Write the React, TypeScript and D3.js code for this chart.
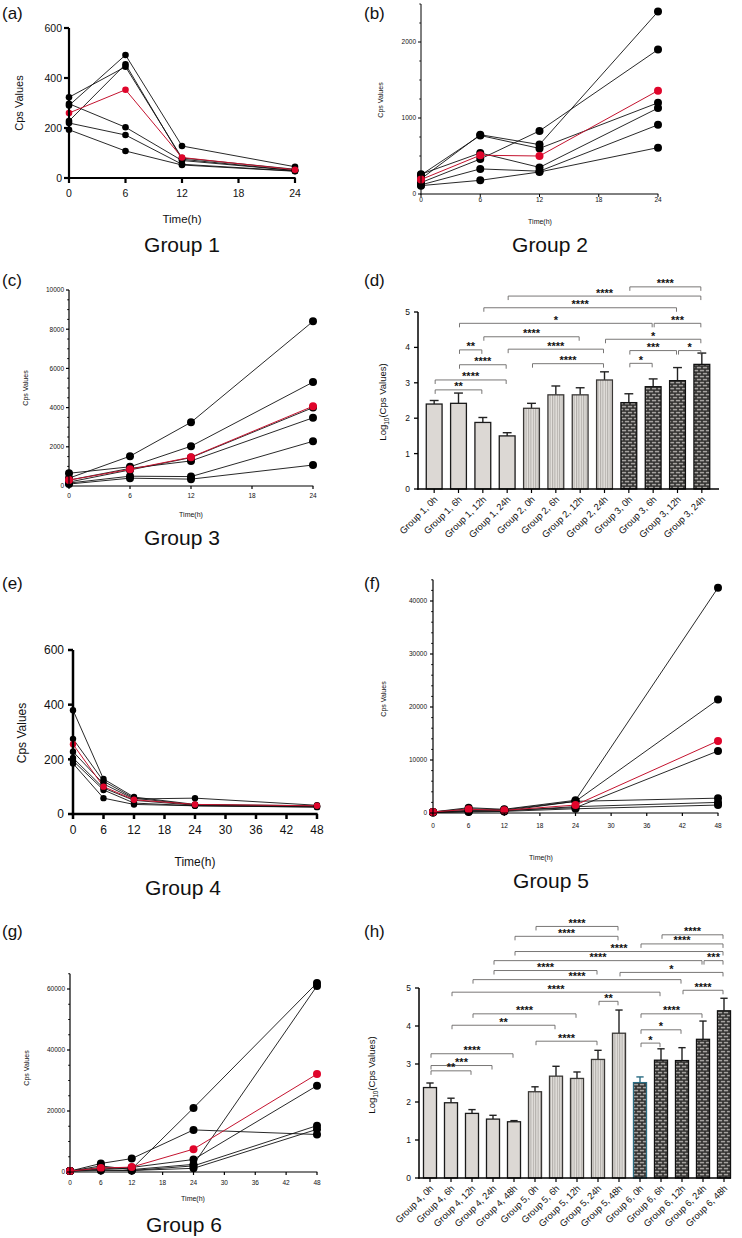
import React from "react";
import * as d3 from "d3";

// ---------------- DATA ----------------
const hours24 = [0, 6, 12, 24];
const hours48 = [0, 6, 12, 24, 48];

const group1Samples = [
  [323, 445, 80, 35],
  [297, 203, 70, 30],
  [290, 492, 128, 45],
  [228, 455, 75, 30],
  [220, 172, 55, 28],
  [193, 108, 52, 27],
];
const group1Mean = [260, 353, 82, 33];

const group2Samples = [
  [200, 780, 650, 2400],
  [250, 770, 600, 1200],
  [150, 460, 830, 1900],
  [260, 540, 350, 1130],
  [120, 330, 300, 910],
  [110, 180, 290, 610],
];
const group2Mean = [190, 510, 500, 1360];

const group3Samples = [
  [400, 1520, 3250, 8400],
  [650, 980, 2030, 5300],
  [200, 820, 1450, 4000],
  [300, 900, 1280, 3480],
  [150, 500, 480, 2280],
  [100, 400, 350, 1070],
];
const group3Mean = [300, 850, 1470, 4070];

const group4Samples = [
  [380, 128, 62, 35, 30],
  [275, 120, 58, 33, 28],
  [228, 110, 55, 58, 32],
  [205, 95, 50, 32, 27],
  [195, 88, 40, 30, 26],
  [185, 58, 35, 30, 25],
];
const group4Mean = [255, 100, 52, 35, 30];

const group5Samples = [
  [200, 1000, 700, 2400, 42500],
  [200, 800, 600, 2200, 21400],
  [150, 500, 500, 1000, 11700],
  [200, 400, 400, 2200, 2800],
  [100, 300, 400, 1200, 2000],
  [100, 200, 300, 800, 1500],
];
const group5Mean = [200, 700, 500, 1500, 13600];

const group6Samples = [
  [300, 2800, 4400, 13800, 12300],
  [300, 1500, 1000, 21000, 62000],
  [300, 2000, 800, 2500, 61000],
  [300, 1000, 1500, 4100, 28300],
  [300, 800, 500, 2000, 15200],
  [300, 500, 500, 1200, 14000],
];
const group6Mean = [300, 1300, 1600, 7500, 32100];

const barLabelsD = [
  "Group 1, 0h", "Group 1, 6h", "Group 1, 12h", "Group 1, 24h",
  "Group 2, 0h", "Group 2, 6h", "Group 2, 12h", "Group 2, 24h",
  "Group 3, 0h", "Group 3, 6h", "Group 3, 12h", "Group 3, 24h",
];
const barGroupD = [1, 1, 1, 1, 2, 2, 2, 2, 3, 3, 3, 3];
const barMeanD = [2.40, 2.42, 1.88, 1.50, 2.28, 2.66, 2.66, 3.08, 2.44, 2.89, 3.06, 3.52];
const barSdD = [0.10, 0.29, 0.14, 0.09, 0.14, 0.25, 0.20, 0.23, 0.25, 0.22, 0.37, 0.32];
// [from, to, level (log units), label]
const bracketsD: [number, number, number, string][] = [
  [0, 2, 2.80, "**"],
  [0, 3, 3.08, "****"],
  [1, 3, 3.51, "****"],
  [1, 2, 3.93, "**"],
  [2, 6, 4.30, "****"],
  [3, 7, 3.95, "****"],
  [4, 7, 3.54, "****"],
  [1, 9, 4.68, "*"],
  [2, 10, 5.12, "****"],
  [3, 11, 5.45, "****"],
  [8, 11, 5.71, "****"],
  [9, 11, 4.68, "***"],
  [7, 11, 4.23, "*"],
  [8, 10, 3.91, "***"],
  [10, 11, 3.91, "*"],
  [8, 9, 3.55, "*"],
];

const barLabelsH = [
  "Group 4, 0h", "Group 4, 6h", "Group 4, 12h", "Group 4, 24h", "Group 4, 48h",
  "Group 5, 0h", "Group 5, 6h", "Group 5, 12h", "Group 5, 24h", "Group 5, 48h",
  "Group 6, 0h", "Group 6, 6h", "Group 6, 12h", "Group 6, 24h", "Group 6, 48h",
];
const barGroupH = [1, 1, 1, 1, 1, 2, 2, 2, 2, 2, 3, 3, 3, 3, 3];
const barMeanH = [2.38, 1.98, 1.70, 1.55, 1.48, 2.27, 2.68, 2.62, 3.12, 3.81, 2.51, 3.10, 3.09, 3.65, 4.40];
const barSdH = [0.12, 0.12, 0.10, 0.10, 0.03, 0.13, 0.26, 0.17, 0.24, 0.61, 0.15, 0.30, 0.34, 0.48, 0.33];
const bracketsH: [number, number, number, string][] = [
  [5, 9, 6.62, "****"],
  [4, 9, 6.36, "****"],
  [11, 14, 6.40, "****"],
  [10, 14, 6.16, "****"],
  [4, 14, 5.96, "****"],
  [3, 13, 5.72, "****"],
  [13, 14, 5.72, "***"],
  [3, 8, 5.46, "****"],
  [9, 14, 5.41, "*"],
  [2, 12, 5.22, "****"],
  [12, 14, 4.94, "****"],
  [1, 11, 4.89, "****"],
  [8, 9, 4.65, "**"],
  [2, 7, 4.32, "****"],
  [10, 13, 4.32, "****"],
  [1, 6, 4.02, "**"],
  [10, 12, 3.90, "*"],
  [5, 8, 3.60, "****"],
  [10, 11, 3.55, "*"],
  [0, 4, 3.27, "****"],
  [0, 3, 2.96, "***"],
  [0, 2, 2.82, "**"],
];

// ---------------- STYLE ----------------
const FONT = "'Liberation Sans', Arial, Helvetica, sans-serif";
const RED_DOT = "#e0052b";
const RED_LINE = "#c4132f";

type LineProps = {
  xs: number[];
  samples: number[][];
  mean: number[];
  xMax: number;
  xStep: number;
  yTop: number;
  yStep: number;
  yMinor: number;
  x0: number; x1: number;
  y0: number; yRefPx: number; yRefVal: number;
  fs: number; tick: number; axisW: number; r: number;
  yLab: [number, number, number];
  xLab: [number, number, number];
  title: [number, number, string];
  xTickBase: number;
  yTickEnd: number;
};

function LinePanel(p: LineProps) {
  const x = d3.scaleLinear().domain([0, p.xMax]).range([p.x0, p.x1]);
  const y = d3.scaleLinear().domain([0, p.yRefVal]).range([p.y0, p.yRefPx]);
  const xTicks = d3.range(0, p.xMax + 0.001, p.xStep);
  const yTicks = d3.range(0, p.yTop + 0.001, p.yStep).filter((v) => v <= p.yTop);
  const yMinorTicks = p.yMinor > 0 ? d3.range(0, p.yTop + 0.001, p.yMinor).filter((v) => v % p.yStep !== 0) : [];
  const line = d3.line<number>().x((_, i) => x(p.xs[i])).y((v) => y(v));
  return (
    <g fontFamily={FONT}>
      {p.samples.map((s, k) => (
        <path key={"l" + k} d={line(s) || ""} fill="none" stroke="#111" strokeWidth={0.9} />
      ))}
      <path d={line(p.mean) || ""} fill="none" stroke={RED_LINE} strokeWidth={1} />
      {p.samples.map((s, k) =>
        s.map((v, i) => <circle key={"c" + k + "-" + i} cx={x(p.xs[i])} cy={y(v)} r={p.r} fill="#000" />)
      )}
      {p.mean.map((v, i) => (
        <circle key={"m" + i} cx={x(p.xs[i])} cy={y(v)} r={p.r} fill={RED_DOT} />
      ))}
      {/* axes */}
      <line x1={p.x0} x2={p.x0} y1={p.y0 + p.axisW / 2} y2={y(p.yTop)} stroke="#000" strokeWidth={p.axisW} />
      <line x1={p.x0 - p.axisW / 2} x2={p.x1 + p.axisW / 4} y1={p.y0} y2={p.y0} stroke="#000" strokeWidth={p.axisW} />
      {yTicks.map((v) => (
        <g key={"yt" + v}>
          <line x1={p.x0 - p.tick} x2={p.x0} y1={y(v)} y2={y(v)} stroke="#000" strokeWidth={p.axisW} />
          <text x={p.yTickEnd} y={y(v)} dy="0.36em" textAnchor="end" fontSize={p.fs} fill="#111">{String(v)}</text>
        </g>
      ))}
      {yMinorTicks.map((v) => (
        <line key={"ym" + v} x1={p.x0 - p.tick * 0.6} x2={p.x0} y1={y(v)} y2={y(v)} stroke="#000" strokeWidth={p.axisW * 0.8} />
      ))}
      {xTicks.map((v) => (
        <g key={"xt" + v}>
          <line x1={x(v)} x2={x(v)} y1={p.y0} y2={p.y0 + p.tick} stroke="#000" strokeWidth={p.axisW} />
          <text x={x(v)} y={p.xTickBase} textAnchor="middle" fontSize={p.fs} fill="#111">{String(v)}</text>
        </g>
      ))}
      <text transform={`translate(${p.yLab[0]},${p.yLab[1]}) rotate(-90)`} textAnchor="middle" dy="0.35em" fontSize={p.yLab[2]} fill="#111">Cps Values</text>
      <text x={p.xLab[0]} y={p.xLab[1]} textAnchor="middle" fontSize={p.xLab[2]} fill="#111">Time(h)</text>
      <text x={p.title[0]} y={p.title[1]} textAnchor="middle" fontSize={21} fill="#111">{p.title[2]}</text>
    </g>
  );
}

type BarProps = {
  labels: string[];
  groups: number[];
  means: number[];
  sds: number[];
  brackets: [number, number, number, string][];
  r0: number; r1: number; padding: number;
  axisX0: number; axisX1: number;
  y0: number; y5: number;
  yLab: [number, number];
  teal?: number;
  id: string;
};

function BarPanel(p: BarProps) {
  const x = d3.scaleBand<number>().domain(d3.range(p.labels.length)).range([p.r0, p.r1]).paddingInner(p.padding).paddingOuter(p.padding / 2);
  const y = d3.scaleLinear().domain([0, 5]).range([p.y0, p.y5]);
  const bw = x.bandwidth();
  const cx = (i: number) => (x(i) as number) + bw / 2;
  const fills: Record<number, string> = { 1: "#dcd8d4", 2: `url(#stripe-${p.id})`, 3: `url(#brick-${p.id})` };
  const strokes: Record<number, string> = { 1: "#1a1a1a", 2: "#3a3836", 3: "#111" };
  return (
    <g fontFamily={FONT}>
      <defs>
        <pattern id={`stripe-${p.id}`} width={2.4} height={4} patternUnits="userSpaceOnUse">
          <rect width={2.4} height={4} fill="#e4e1dd" />
          <line x1={0.6} x2={0.6} y1={0} y2={4} stroke="#8c8884" strokeWidth={0.7} />
        </pattern>
        <pattern id={`brick-${p.id}`} width={6} height={6} patternUnits="userSpaceOnUse">
          <rect width={6} height={6} fill="#2e2d2c" />
          <rect x={0.8} y={0.8} width={4.4} height={1.6} fill="#a6a3a0" />
          <rect x={3.8} y={3.8} width={4.4} height={1.6} fill="#a6a3a0" />
          <rect x={-2.2} y={3.8} width={4.4} height={1.6} fill="#a6a3a0" />
        </pattern>
      </defs>
      {p.means.map((m, i) => {
        const g = p.groups[i];
        const isTeal = p.teal === i;
        const col = isTeal ? "#2b6d84" : strokes[g];
        const top = y(m);
        const errTop = y(m + p.sds[i]);
        return (
          <g key={"b" + i}>
            <line x1={cx(i)} x2={cx(i)} y1={top} y2={errTop} stroke={isTeal ? col : "#222"} strokeWidth={1.4} />
            <line x1={cx(i) - bw * 0.28} x2={cx(i) + bw * 0.28} y1={errTop} y2={errTop} stroke={isTeal ? col : "#222"} strokeWidth={1.4} />
            <rect x={x(i)} y={top} width={bw} height={p.y0 - top} fill={fills[g]} stroke={col} strokeWidth={1.3} />
          </g>
        );
      })}
      {p.brackets.map(([a, b, lv, lab], k) => {
        const yy = y(lv);
        const xa = cx(a) + 1;
        const xb = cx(b) - 1;
        return (
          <g key={"br" + k}>
            <path d={`M${xa},${yy + 4}V${yy}H${xb}V${yy + 4}`} fill="none" stroke="#6a6866" strokeWidth={0.9} />
            <text x={(xa + xb) / 2} y={yy + 0.5} textAnchor="middle" fontSize={11} fontWeight="bold" fill="#111">{lab}</text>
          </g>
        );
      })}
      {/* axes */}
      <line x1={p.axisX0} x2={p.axisX0} y1={p.y0 + 0.7} y2={p.y5} stroke="#000" strokeWidth={1.5} />
      <line x1={p.axisX0 - 0.7} x2={p.axisX1} y1={p.y0} y2={p.y0} stroke="#000" strokeWidth={1.5} />
      {d3.range(0, 6).map((v) => (
        <g key={"yt" + v}>
          <line x1={p.axisX0 - 4} x2={p.axisX0} y1={y(v)} y2={y(v)} stroke="#000" strokeWidth={1.3} />
          <text x={p.axisX0 - 8} y={y(v)} dy="0.36em" textAnchor="end" fontSize={8.5} fill="#111">{String(v)}</text>
        </g>
      ))}
      {p.labels.map((l, i) => (
        <g key={"xl" + i}>
          <line x1={cx(i)} x2={cx(i)} y1={p.y0} y2={p.y0 + 4} stroke="#000" strokeWidth={1.2} />
          <text transform={`translate(${cx(i) + 4},${p.y0 + 11}) rotate(-45)`} textAnchor="end" fontSize={9.3} fill="#111">{l}</text>
        </g>
      ))}
      <text transform={`translate(${p.yLab[0]},${p.yLab[1]}) rotate(-90)`} textAnchor="middle" dy="0.35em" fontSize={9.5} fill="#111">
        Log<tspan fontSize={6.5} dy={2.5}>10</tspan><tspan dy={-2.5}>(Cps Values)</tspan>
      </text>
    </g>
  );
}

function PanelLabel({ x, y, t }: { x: number; y: number; t: string }) {
  return <text x={x} y={y} fontFamily={FONT} fontSize={17} fill="#111">{t}</text>;
}

export default function App() {
  return (
    <svg width={742} height={1238} viewBox="0 0 742 1238" style={{ position: "absolute", left: 0, top: 0, background: "#fff" }}>
      <rect width={742} height={1238} fill="#fff" />
      <PanelLabel x={2} y={19} t="(a)" />
      <PanelLabel x={364} y={19} t="(b)" />
      <PanelLabel x={2} y={286} t="(c)" />
      <PanelLabel x={364} y={286} t="(d)" />
      <PanelLabel x={2} y={589} t="(e)" />
      <PanelLabel x={364} y={589} t="(f)" />
      <PanelLabel x={2} y={937} t="(g)" />
      <PanelLabel x={364} y={937} t="(h)" />

      <LinePanel xs={hours24} samples={group1Samples} mean={group1Mean} xMax={24} xStep={6}
        yTop={600} yStep={200} yMinor={0} x0={69} x1={295} y0={178} yRefPx={28} yRefVal={600}
        fs={10.5} tick={5} axisW={2.2} r={3.3} yLab={[19, 103, 11]} xLab={[182, 223, 11.5]}
        title={[182, 252, "Group 1"]} xTickBase={197} yTickEnd={62} />

      <LinePanel xs={hours24} samples={group2Samples} mean={group2Mean} xMax={24} xStep={6}
        yTop={2500} yStep={1000} yMinor={250} x0={421} x1={658} y0={194} yRefPx={42} yRefVal={2000}
        fs={6.5} tick={3} axisW={1} r={4} yLab={[381, 100, 7]} xLab={[540, 224, 7]}
        title={[550, 252, "Group 2"]} xTickBase={202} yTickEnd={416} />

      <LinePanel xs={hours24} samples={group3Samples} mean={group3Mean} xMax={24} xStep={6}
        yTop={10000} yStep={2000} yMinor={500} x0={69} x1={313} y0={486} yRefPx={290} yRefVal={10000}
        fs={6.5} tick={3} axisW={1.2} r={4} yLab={[26, 388, 7]} xLab={[191, 517, 7]}
        title={[182, 545, "Group 3"]} xTickBase={498} yTickEnd={64} />

      <BarPanel id="d" labels={barLabelsD} groups={barGroupD} means={barMeanD} sds={barSdD}
        brackets={bracketsD} r0={422} r1={714} padding={0.35} axisX0={418} axisX1={719}
        y0={489} y5={312} yLab={[383, 402]} />

      <LinePanel xs={hours48} samples={group4Samples} mean={group4Mean} xMax={48} xStep={6}
        yTop={600} yStep={200} yMinor={0} x0={73} x1={317} y0={814} yRefPx={650} yRefVal={600}
        fs={12} tick={5} axisW={2.5} r={3.2} yLab={[22, 733, 12]} xLab={[195, 866, 12]}
        title={[183, 895, "Group 4"]} xTickBase={834} yTickEnd={64} />

      <LinePanel xs={hours48} samples={group5Samples} mean={group5Mean} xMax={48} xStep={6}
        yTop={44000} yStep={10000} yMinor={2000} x0={433} x1={718} y0={813} yRefPx={601} yRefVal={40000}
        fs={6.5} tick={3} axisW={1.2} r={4} yLab={[384, 699, 7]} xLab={[541, 860, 7]}
        title={[551, 888, "Group 5"]} xTickBase={828} yTickEnd={427} />

      <LinePanel xs={hours48} samples={group6Samples} mean={group6Mean} xMax={48} xStep={6}
        yTop={65000} yStep={20000} yMinor={5000} x0={70} x1={317} y0={1172} yRefPx={989} yRefVal={60000}
        fs={6.5} tick={3} axisW={1.2} r={4} yLab={[27, 1068, 7]} xLab={[193, 1201, 7]}
        title={[184, 1232, "Group 6"]} xTickBase={1185} yTickEnd={65} />

      <BarPanel id="h" labels={barLabelsH} groups={barGroupH} means={barMeanH} sds={barSdH}
        brackets={bracketsH} r0={419.5} r1={734.5} padding={0.38} axisX0={419} axisX1={731}
        y0={1178} y5={988} yLab={[372, 1075]} teal={10} />
    </svg>
  );
}
